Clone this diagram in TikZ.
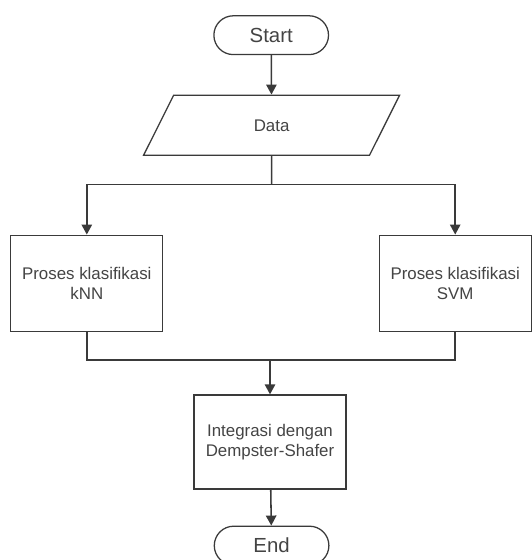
\documentclass[tikz,border=0pt]{standalone}
\usepackage{fontspec}
\setmainfont{Liberation Sans}
\usepackage{tikz}
\usetikzlibrary{shapes,arrows.meta,positioning}
\definecolor{linegray}{HTML}{3A3A3A}
\definecolor{textgray}{HTML}{444444}

\begin{document}
\begin{tikzpicture}[
    terminal/.style={rounded rectangle, draw=linegray, line width=0.9pt, minimum width=3.1cm, minimum height=0.97cm, text=textgray, font=\fontsize{14.5}{16}\selectfont},
    iobox/.style={trapezium, trapezium left angle=63.4, trapezium right angle=116.6, trapezium stretches body=true, draw=linegray, line width=0.9pt, text height=0.3cm, text depth=0cm, inner ysep=0.6cm, minimum width=6.4cm, text=textgray, font=\fontsize{12}{14}\selectfont},
    procbox/.style={rectangle, draw=linegray, line width=0.9pt, minimum width=3.8cm, minimum height=2.4cm, align=center, text=textgray, font=\fontsize{12}{14}\selectfont},
    conn/.style={draw=linegray, line width=1.1pt},
    arr/.style={conn, -{Triangle[length=2.5mm,width=2.6mm]}}
]
        \useasboundingbox (0,0) rectangle (13.275,14);

        % Start and input
        \node[terminal] (start) at (6.78,13.12) {Start};
        \node[iobox] (data) at (6.79,10.87) {Data};

        % Classification
        \node[procbox] (knn) at (2.17,6.92) {Proses klasifikasi\\kNN};
        \node[procbox] (svm) at (11.38,6.92) {Proses klasifikasi\\SVM};

        % Integration and end
        \node[procbox, minimum height=2.35cm] (integ) at (6.75,2.95) {Integrasi dengan\\Dempster-Shafer};
        \node[terminal] (end) at (6.79,0.36) {End};

        % Branch and merge points
        \coordinate (split) at (6.79,9.39);
        \coordinate (merge) at (6.75,5.0);

        % Connections
        \draw[arr] (start) -- (data);
        \draw[conn] (data) -- (split);
        \draw[arr] (split) -| (knn);
        \draw[arr] (split) -| (svm);
        \draw[conn] (knn) |- (merge);
        \draw[conn] (svm) |- (merge);
        \draw[arr] (merge) -- (integ);
        \draw[arr] (integ) -- (end);
    \end{tikzpicture}
\end{document}
